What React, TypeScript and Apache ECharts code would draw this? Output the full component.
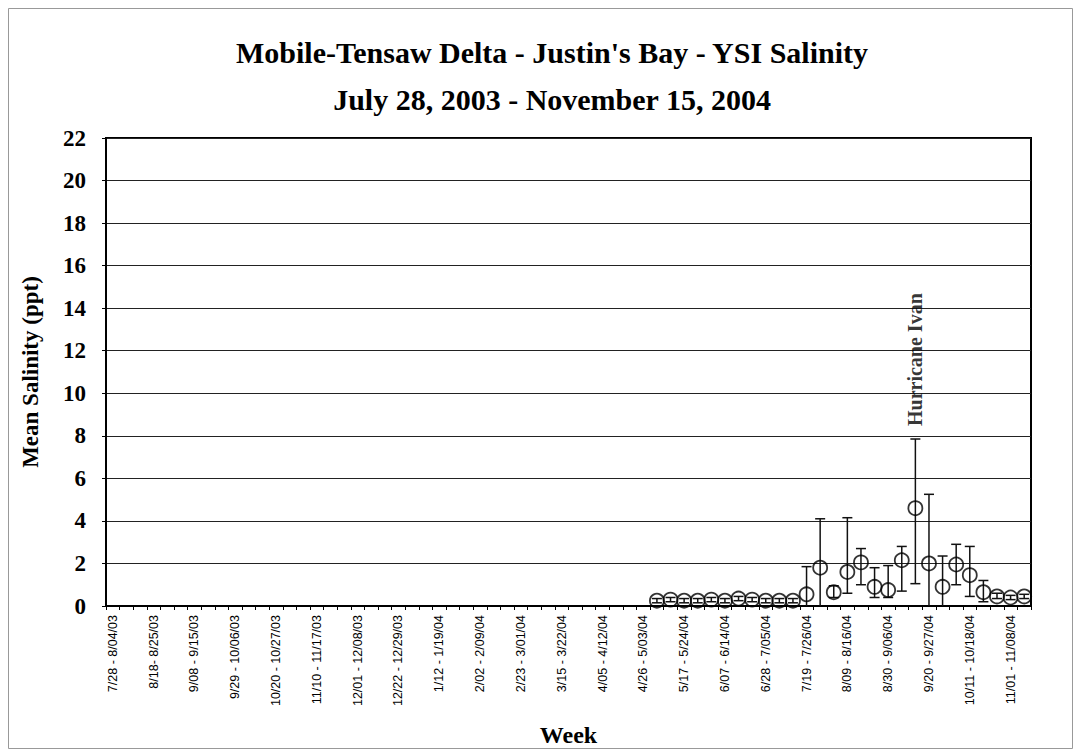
import React, { useEffect, useRef } from "react";
import * as echarts from "echarts";

const weekLabels: string[] = [
  "7/28 - 8/04/03", "8/04 - 8/11/03", "8/11 - 8/18/03", "8/18- 8/25/03", "8/25 - 9/01/03",
  "9/01 - 9/08/03", "9/08 - 9/15/03", "9/15 - 9/22/03", "9/22 - 9/29/03", "9/29 - 10/06/03",
  "10/06 - 10/13/03", "10/13 - 10/20/03", "10/20 - 10/27/03", "10/27 - 11/03/03", "11/03 - 11/10/03",
  "11/10 - 11/17/03", "11/17 - 11/24/03", "11/24 - 12/01/03", "12/01 - 12/08/03", "12/08 - 12/15/03",
  "12/15 - 12/22/03", "12/22 - 12/29/03", "12/29 - 1/05/04", "1/05 - 1/12/04", "1/12 - 1/19/04",
  "1/19 - 1/26/04", "1/26 - 2/02/04", "2/02 - 2/09/04", "2/09 - 2/16/04", "2/16 - 2/23/04",
  "2/23 - 3/01/04", "3/01 - 3/08/04", "3/08 - 3/15/04", "3/15 - 3/22/04", "3/22 - 3/29/04",
  "3/29 - 4/05/04", "4/05 - 4/12/04", "4/12 - 4/19/04", "4/19 - 4/26/04", "4/26 - 5/03/04",
  "5/03 - 5/10/04", "5/10 - 5/17/04", "5/17 - 5/24/04", "5/24 - 5/31/04", "5/31 - 6/07/04",
  "6/07 - 6/14/04", "6/14 - 6/21/04", "6/21 - 6/28/04", "6/28 - 7/05/04", "7/05 - 7/12/04",
  "7/12 - 7/19/04", "7/19 - 7/26/04", "7/26 - 8/02/04", "8/02 - 8/09/04", "8/09 - 8/16/04",
  "8/16 - 8/23/04", "8/23 - 8/30/04", "8/30 - 9/06/04", "9/06 - 9/13/04", "9/13 - 9/20/04",
  "9/20 - 9/27/04", "9/27 - 10/04/04", "10/04 - 10/11/04", "10/11 - 10/18/04", "10/18 - 10/25/04",
  "10/25 - 11/01/04", "11/01 - 11/08/04", "11/08 - 11/15/04",
];

// Weeks with YSI measurements (from 5/03/04 onward)
const sampledWeeks: string[] = weekLabels.slice(40);

const meanSalinity: number[] = [
  0.25, 0.3, 0.25, 0.25, 0.3, 0.25, 0.35, 0.3, 0.25, 0.25, 0.25,
  0.55, 1.8, 0.65, 1.6, 2.05, 0.9, 0.75, 2.15, 4.6, 2.0, 0.9,
  1.95, 1.45, 0.65, 0.45, 0.4, 0.45,
];
const highSalinity: number[] = [
  0.35, 0.4, 0.35, 0.35, 0.4, 0.35, 0.45, 0.4, 0.35, 0.35, 0.35,
  1.85, 4.1, 0.95, 4.15, 2.7, 1.8, 1.9, 2.8, 7.85, 5.25, 2.35,
  2.9, 2.8, 1.2, 0.6, 0.5, 0.55,
];
const lowSalinity: number[] = [
  0.15, 0.2, 0.15, 0.15, 0.2, 0.15, 0.25, 0.2, 0.15, 0.15, 0.15,
  -0.7, -0.5, 0.4, 0.6, 1.0, 0.4, 0.4, 0.7, 1.05, -0.2, -0.2,
  1.0, 0.45, 0.2, 0.35, 0.3, 0.35,
];

const yTicks = { min: 0, max: 22, interval: 2 };
const annotationWeek = "9/13 - 9/20/04";
const annotationText = "Hurricane Ivan";

export default function App() {
  const ref = useRef<HTMLDivElement>(null);

  useEffect(() => {
    if (!ref.current) return;
    const chart = echarts.init(ref.current, null, { renderer: "svg" });
    const serif = "'Liberation Serif', 'Times New Roman', serif";

    const errData = sampledWeeks.map((w, i) => [w, lowSalinity[i], highSalinity[i]]);
    const meanData = sampledWeeks.map((w, i) => [w, meanSalinity[i]]);
    const annIdx = sampledWeeks.indexOf(annotationWeek);

    const option: any = {
      animation: false,
      backgroundColor: "#ffffff",
      title: [
        {
          text: "Mobile-Tensaw Delta - Justin's Bay - YSI Salinity",
          left: 547,
          top: 32,
          textAlign: "center",
          textStyle: { fontFamily: serif, fontWeight: "bold", fontSize: 30, color: "#000" },
        },
        {
          text: "July 28, 2003 - November 15, 2004",
          left: 547,
          top: 79,
          textAlign: "center",
          textStyle: { fontFamily: serif, fontWeight: "bold", fontSize: 30, color: "#000" },
        },
      ],
      graphic: [
        {
          type: "rect",
          shape: { x: 8.5, y: 8.5, width: 1064, height: 740 },
          style: { fill: "none", stroke: "#999", lineWidth: 1 },
          silent: true,
        },
      ],
      grid: {
        left: 106, right: 50, top: 138, bottom: 144,
        outerBoundsMode: "none",
        containLabel: false,
        show: true, borderColor: "#000", borderWidth: 2, backgroundColor: "transparent",
      },
      xAxis: {
        type: "category",
        data: weekLabels,
        boundaryGap: true,
        name: "Week",
        nameLocation: "middle",
        nameGap: 117,
        nameTextStyle: { fontFamily: serif, fontWeight: "bold", fontSize: 24, color: "#000" },
        axisLine: { show: true, lineStyle: { color: "#000", width: 2 } },
        axisTick: { show: true, length: 4, interval: 0, lineStyle: { color: "#000" } },
        axisLabel: {
          interval: 2,
          rotate: 90,
          margin: 9,
          fontFamily: "'Liberation Sans', Arial, sans-serif",
          fontSize: 12.5,
          color: "#000",
        },
        splitLine: { show: false },
      },
      yAxis: {
        type: "value",
        min: yTicks.min,
        max: yTicks.max,
        interval: yTicks.interval,
        name: "Mean Salinity (ppt)",
        nameLocation: "middle",
        nameGap: 64,
        nameTextStyle: { fontFamily: serif, fontWeight: "bold", fontSize: 23, color: "#000" },
        axisLine: { show: true, lineStyle: { color: "#000", width: 2 } },
        axisTick: { show: true, length: 4, lineStyle: { color: "#000" } },
        axisLabel: { fontFamily: serif, fontWeight: "bold", fontSize: 23, color: "#000", margin: 20 },
        splitLine: { show: true, lineStyle: { color: "#222", width: 1 } },
      },
      series: [
        {
          type: "custom",
          name: "range",
          data: errData,
          z: 2,
          renderItem: (params: any, api: any) => {
            const x = api.value(0);
            const lo = api.value(1);
            const hi = api.value(2);
            const top = api.coord([x, hi]);
            const bot = api.coord([x, Math.max(lo, 0)]);
            const cap = 5;
            const children: any[] = [
              { type: "line", shape: { x1: top[0], y1: top[1], x2: bot[0], y2: bot[1] }, style: { stroke: "#111", lineWidth: 1.5 } },
              { type: "line", shape: { x1: top[0] - cap, y1: top[1], x2: top[0] + cap, y2: top[1] }, style: { stroke: "#111", lineWidth: 1.5 } },
            ];
            if (lo > 0) {
              children.push({ type: "line", shape: { x1: bot[0] - cap, y1: bot[1], x2: bot[0] + cap, y2: bot[1] }, style: { stroke: "#111", lineWidth: 1.5 } });
            }
            return { type: "group", children };
          },
        },
        {
          type: "scatter",
          name: "mean",
          data: meanData,
          symbol: "circle",
          symbolSize: 14,
          z: 3,
          itemStyle: { color: "rgba(255,255,255,0)", borderColor: "#000", borderWidth: 1.8 },
        },
        {
          type: "scatter",
          name: "annotation",
          data: [[annotationWeek, highSalinity[annIdx]]],
          symbolSize: 0,
          z: 4,
          label: {
            show: true,
            formatter: annotationText,
            position: "top",
            distance: 13,
            rotate: 90,
            align: "left",
            verticalAlign: "middle",
            fontFamily: serif,
            fontWeight: "bold",
            fontSize: 20,
            color: "#000",
          },
        },
      ],
    };
    chart.setOption(option);
    return () => chart.dispose();
  }, []);

  return <div ref={ref} style={{ position: "fixed", left: 0, top: 0, width: 1081, height: 750 }} />;
}
